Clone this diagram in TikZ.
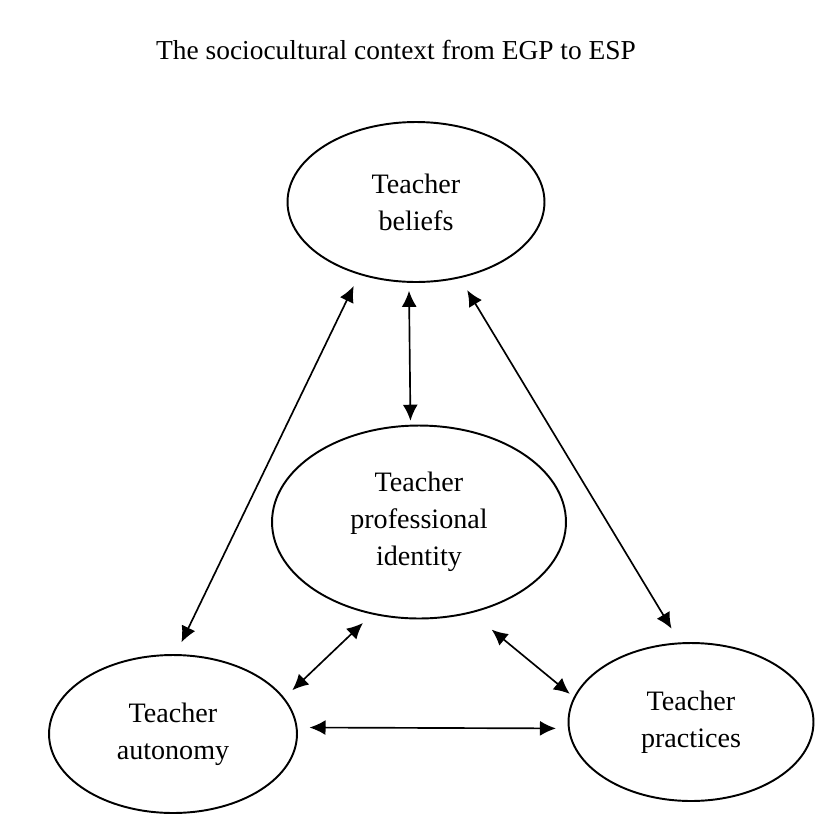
\documentclass[tikz,border=0pt]{standalone}
\usepackage{fontspec}
\setmainfont{Liberation Serif}
\usetikzlibrary{shapes.geometric,arrows.meta}

\tikzset{
  bubble/.style={ellipse, draw, line width=1.1pt, inner sep=0pt, align=center,
    font=\fontsize{16}{21}\selectfont},
  link/.style={{Latex[length=3.2mm,width=3mm]}-{Latex[length=3.2mm,width=3mm]}, line width=0.95pt}
}

\begin{document}
\begin{tikzpicture}[x=0.02cm, y=-0.02cm]
\useasboundingbox (0,0) rectangle (839,839);

\node[font=\fontsize{15.6}{21}\selectfont] (title) at (396,50) {The sociocultural context from EGP to ESP};

\node[bubble, minimum width=5.14cm, minimum height=3.2cm] (beliefs) at (416,202) {Teacher\\beliefs};
\node[bubble, minimum width=5.88cm, minimum height=3.86cm] (identity) at (419,522) {Teacher\\professional\\identity};
\node[bubble, minimum width=4.96cm, minimum height=3.16cm] (autonomy) at (173,734) {Teacher\\autonomy};
\node[bubble, minimum width=4.9cm, minimum height=3.16cm] (practices) at (691,722) {Teacher\\practices};

% links between the four circles
\draw[link, shorten <=0.25cm, shorten >=0.26cm] (beliefs.232) -- (autonomy.88);
\draw[link, shorten <=0.16cm, shorten >=0.08cm] (beliefs.265) -- (identity.95);
\draw[link, shorten <=0.28cm, shorten >=0.32cm] (beliefs.300) -- (practices.98);
\draw[link, shorten <=0.25cm, shorten >=0.22cm] (identity.243) -- (autonomy.18);
\draw[link, shorten <=0.52cm, shorten >=0.1cm] (identity.300) -- (practices.168);
\draw[link, shorten <=0.24cm, shorten >=0.24cm] (autonomy.3) -- (practices.183);
\end{tikzpicture}
\end{document}
